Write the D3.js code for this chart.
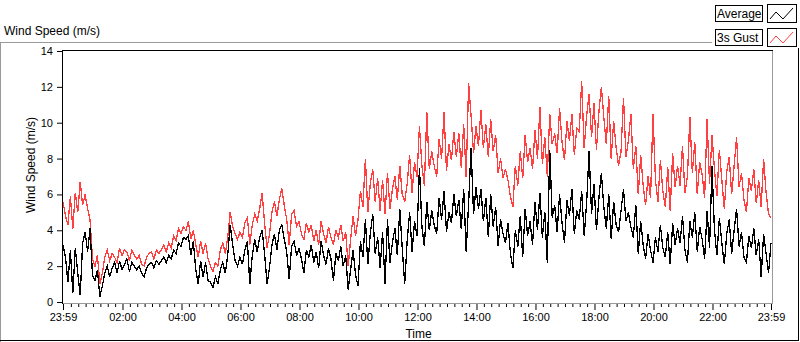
<html>

<head>
  <title>Wind Speed</title>
  <script src="https://d3js.org/d3.v7.min.js"></script>
  <style>
    body {
      margin: 0;
      background: #fff;
    }

    text {
      font-family: "Liberation Sans", Arial, sans-serif;
      fill: #000;
    }

    .axis .domain {
      stroke: none;
    }

    .axis line {
      stroke: #000;
    }

    .frame-dark {
      stroke: #000;
      stroke-width: 1px;
    }

    .frame-light {
      stroke: #9a9a9a;
      stroke-width: 1px;
    }

    .series {
      fill: none;
      stroke-width: 1.3px;
      shape-rendering: crispEdges;
    }
  </style>
</head>

<body>
  <svg id="chart" width="800" height="342"></svg>

  <script>

    // one reading every 5 minutes, starting at 23:59 of the previous day
    const stepMinutes = 5;

    const average = [
      3.2, 2.5, 1.1, 2.9, 0.5, 3.0, 1.6, 0.4, 3.3, 3.9,
      2.8, 4.1, 1.5, 1.2, 1.8, 0.3, 0.9, 1.6, 2.0, 1.4,
      1.9, 2.2, 1.6, 2.3, 1.8, 2.1, 2.4, 1.7, 2.2, 2.0,
      1.8, 2.0, 1.6, 1.4, 1.9, 2.1, 2.2, 1.9, 2.3, 2.1,
      2.3, 2.5, 2.2, 2.6, 2.4, 2.9, 2.7, 3.3, 3.1, 3.6,
      3.5, 3.7, 2.6, 3.4, 1.8, 1.0, 2.3, 1.4, 2.2, 1.2,
      1.1, 0.8, 1.4, 1.0, 1.8, 2.2, 1.6, 2.6, 4.3, 3.2,
      2.3, 2.0, 2.5, 2.1, 2.9, 3.4, 1.0, 2.6, 3.5, 2.8,
      3.6, 4.0, 2.7, 1.0, 1.9, 3.2, 3.8, 2.9, 4.0, 4.3,
      3.5, 2.8, 1.3, 3.1, 3.4, 2.6, 3.0, 2.4, 1.6, 2.9,
      2.5, 3.2, 2.2, 2.8, 1.9, 3.4, 2.6, 2.1, 3.0, 2.4,
      1.2, 2.7, 2.3, 3.1, 2.0, 2.6, 0.7, 1.8, 2.9, 1.5,
      0.9, 3.4, 2.5, 4.6, 2.1, 3.8, 4.9, 2.7, 3.6, 1.9,
      3.9, 1.0, 4.6, 2.2, 3.3, 4.1, 2.6, 5.2, 3.0, 1.0,
      3.4, 5.0, 2.8, 4.5, 3.7, 7.5, 4.2, 3.1, 5.6, 4.0,
      5.1, 4.3, 3.8, 5.8, 4.6, 6.2, 3.9, 5.0, 4.4, 6.0,
      4.8, 5.7, 4.1, 6.3, 2.8, 5.5, 8.6, 4.9, 6.4, 5.2,
      6.3, 4.5, 5.8, 3.6, 6.0, 4.2, 5.3, 3.1, 4.6, 3.8,
      3.3, 4.4, 2.7, 1.9, 4.0, 3.1, 4.8, 2.5, 5.2, 3.7,
      4.5, 3.2, 5.6, 4.0, 6.1, 3.6, 5.0, 2.2, 8.5, 4.7,
      5.4, 3.9, 6.0, 4.4, 3.3, 5.7, 4.8, 6.3, 3.8, 5.1,
      4.6, 6.2, 3.7, 5.5, 8.4, 4.9, 6.6, 4.0, 5.8, 7.2,
      5.3, 4.1, 6.0, 3.5, 5.6, 4.3, 3.9, 5.1, 6.3, 4.5,
      5.0, 4.2, 3.6, 5.4, 2.7, 4.5, 3.2, 2.4, 3.8, 2.9,
      2.2, 3.6, 2.8, 4.3, 3.0, 2.5, 3.9, 2.1, 4.4, 3.2,
      4.1, 3.3, 4.8, 2.9, 2.2, 4.5, 3.6, 5.0, 2.8, 4.2,
      3.5, 2.4, 5.1, 3.0, 7.6, 4.0, 2.6, 4.7, 3.3, 2.1,
      3.8, 4.6, 2.7, 4.0, 5.2, 3.1, 3.9, 2.5, 2.2, 3.7,
      3.0, 4.1, 2.6, 3.5, 1.4, 3.8, 2.7, 1.6, 3.3
    ];

    const gust = [
      5.6, 4.8, 4.3, 5.9, 4.1, 6.1, 5.0, 6.7, 5.4, 6.0,
      5.2, 4.6, 2.4, 2.0, 2.6, 1.0, 1.6, 2.5, 2.9, 2.3,
      2.7, 2.5, 2.2, 3.0, 2.6, 2.9, 2.8, 2.3, 2.9, 2.6,
      2.4, 2.6, 2.1, 2.0, 2.5, 2.7, 2.8, 2.4, 2.9, 2.7,
      2.9, 3.2, 2.8, 3.3, 3.0, 3.7, 3.4, 4.1, 3.8, 4.2,
      4.0, 4.5, 3.5, 4.0, 3.2, 2.5, 3.4, 2.7, 3.3, 2.4,
      2.0, 1.7, 2.2, 2.0, 2.9, 3.3, 2.7, 3.6, 5.0, 4.2,
      3.8, 3.5, 3.9, 3.6, 4.4, 4.7, 3.2, 4.3, 4.9, 4.5,
      5.2, 6.1, 4.4, 3.0, 3.8, 5.0, 5.6, 4.8, 5.7, 6.35,
      5.4, 4.6, 3.2, 4.9, 5.1, 4.2, 4.5, 3.8, 3.5, 4.4,
      3.9, 4.3, 3.4, 4.0, 3.2, 4.5, 3.8, 3.3, 4.2, 3.6,
      3.2, 4.0, 3.6, 4.3, 3.4, 3.9, 2.0, 3.5, 4.8, 3.7,
      4.6, 6.2, 5.3, 8.0, 5.0, 6.6, 7.4, 5.6, 6.9, 5.1,
      6.8, 4.9, 7.2, 5.2, 6.3, 7.0, 5.7, 7.6, 6.0, 5.6,
      6.6, 8.2, 6.1, 7.8, 7.0, 9.8, 7.6, 6.5, 10.6, 7.4,
      8.4, 7.6, 7.0, 9.1, 8.0, 10.6, 7.3, 8.8, 7.9, 9.5,
      8.1, 9.4, 7.5, 9.9, 7.0, 12.2, 10.4, 8.3, 9.8, 8.7,
      10.7, 8.6, 9.9, 8.1, 10.2, 8.4, 9.3, 7.2, 8.0, 6.9,
      7.4, 6.8, 5.9, 5.3, 7.6, 6.5, 8.4, 6.9, 9.3, 7.8,
      8.6, 7.4, 9.6, 8.0, 10.9, 7.7, 9.2, 7.0, 10.5, 8.8,
      9.4, 8.3, 10.8, 8.9, 7.9, 10.1, 9.0, 10.5, 8.2, 9.7,
      9.5, 12.3, 8.6, 10.4, 11.6, 9.2, 11.1, 8.5, 10.6, 12.0,
      10.3, 8.8, 11.5, 8.0, 10.1, 8.6, 7.6, 8.4, 11.4, 8.1,
      9.0, 10.5, 7.4, 8.7, 6.0, 8.2, 6.5, 5.4, 7.0, 5.8,
      10.5, 6.8, 5.6, 7.9, 6.2, 5.3, 7.5, 5.1, 8.3, 6.4,
      7.6, 6.5, 8.7, 6.1, 7.0, 10.3, 7.2, 8.9, 6.0, 7.8,
      7.1, 5.8, 10.2, 6.6, 9.3, 7.4, 5.9, 8.5, 6.8, 5.2,
      7.3, 8.1, 6.0, 7.6, 9.2, 6.4, 7.2, 5.7, 5.0, 6.9,
      6.2, 7.4, 5.5, 6.8, 5.3, 8.0, 6.1, 4.9, 4.7
    ];

    const yTicks = [0, 2, 4, 6, 8, 10, 12, 14];

    // major time ticks, in minutes after 23:59
    const xTickMinutes = [0, 121, 241, 361, 481, 601, 721, 841, 961, 1081, 1201, 1321, 1440];
    const xTickLabels = ["23:59", "02:00", "04:00", "06:00", "08:00", "10:00", "12:00",
      "14:00", "16:00", "18:00", "20:00", "22:00", "23:59"];

    const seriesNames = ["Average", "3s Gust"];
    const seriesColors = ["#000000", "#ff4040"];


    const svg = d3.select("svg#chart");
    const width = svg.attr("width");
    const height = svg.attr("height");
    const plot = { left: 63, right: 772, top: 51, bottom: 303 };

    const xScale = d3.scaleLinear().domain([0, 1440]).range([plot.left, plot.right - 1]);
    const yScale = d3.scaleLinear().domain([0, 14]).range([plot.bottom - 1, plot.top]);

    // outer panel frame
    svg.append("line").attr("class", "frame-light")
      .attr("x1", 0).attr("x2", 712).attr("y1", 42.5).attr("y2", 42.5);
    svg.append("line").attr("class", "frame-light")
      .attr("x1", 0.5).attr("x2", 0.5).attr("y1", 42).attr("y2", height);
    svg.append("line").attr("class", "frame-dark")
      .attr("x1", 0).attr("x2", 799).attr("y1", 340.5).attr("y2", 340.5);
    svg.append("line").attr("class", "frame-dark")
      .attr("x1", 798.5).attr("x2", 798.5).attr("y1", 48).attr("y2", 341);

    svg.append("text")
      .attr("x", 4).attr("y", 35)
      .style("font-size", "12px")
      .text("Wind Speed (m/s)");

    // plot area border: dark top/left, light bottom/right
    svg.append("line").attr("class", "frame-light")
      .attr("x1", plot.left).attr("x2", plot.right + 1).attr("y1", plot.bottom + 0.5).attr("y2", plot.bottom + 0.5);
    svg.append("line").attr("class", "frame-light")
      .attr("x1", plot.right + 0.5).attr("x2", plot.right + 0.5).attr("y1", plot.top).attr("y2", plot.bottom + 1);
    svg.append("line").attr("class", "frame-dark")
      .attr("x1", plot.left - 1).attr("x2", plot.right + 1).attr("y1", plot.top - 0.5).attr("y2", plot.top - 0.5);
    svg.append("line").attr("class", "frame-dark")
      .attr("x1", plot.left - 0.5).attr("x2", plot.left - 0.5).attr("y1", plot.top - 1).attr("y2", plot.bottom + 1);

    // axes
    const leftAxis = d3.axisLeft(yScale).tickValues(yTicks).tickSize(5).tickPadding(4);
    svg.append("g")
      .attr("class", "y axis")
      .attr("transform", `translate(${plot.left - 1},0)`)
      .call(leftAxis)
      .selectAll("text").style("font-size", "11px");

    const minorMinutes = d3.range(16, 1440, 15).filter(m => !xTickMinutes.some(t => Math.abs(t - m) < 5));
    const minorAxis = d3.axisBottom(xScale).tickValues(minorMinutes).tickSize(3).tickFormat("");
    svg.append("g")
      .attr("class", "x axis minor")
      .attr("transform", `translate(0,${plot.bottom + 1})`)
      .call(minorAxis);

    const bottomAxis = d3.axisBottom(xScale).tickValues(xTickMinutes).tickSize(6).tickPadding(3)
      .tickFormat((d, i) => xTickLabels[i]);
    svg.append("g")
      .attr("class", "x axis")
      .attr("transform", `translate(0,${plot.bottom + 1})`)
      .call(bottomAxis)
      .selectAll("text").style("font-size", "11px");

    svg.append("text")
      .attr("x", (plot.left + plot.right) / 2 + 1).attr("y", 338)
      .attr("text-anchor", "middle")
      .style("font-size", "12px")
      .text("Time");

    svg.append("text")
      .attr("transform", "translate(35,165) rotate(-90)")
      .attr("text-anchor", "middle")
      .style("font-size", "12px")
      .text("Wind Speed (m/s)");

    // series
    svg.append("clipPath").attr("id", "plotclip")
      .append("rect")
      .attr("x", plot.left).attr("y", plot.top)
      .attr("width", plot.right - plot.left).attr("height", plot.bottom - plot.top);

    let chartArea = svg.append("g").attr("clip-path", "url(#plotclip)");

    const line = d3.line()
      .x((d, i) => xScale(i * stepMinutes))
      .y(d => yScale(d));

    chartArea.append("path").datum(gust)
      .attr("class", "series")
      .attr("stroke", seriesColors[1])
      .attr("d", line);

    chartArea.append("path").datum(average)
      .attr("class", "series")
      .attr("stroke", seriesColors[0])
      .attr("d", line);

    // legend
    const legend = svg.append("g").attr("transform", "translate(715,4)");
    seriesNames.forEach((name, i) => {
      let row = legend.append("g").attr("transform", `translate(0,${i * 24})`);
      row.append("rect")
        .attr("x", 0.5).attr("y", 1.5).attr("width", 47).attr("height", 16)
        .attr("fill", "#fff").attr("stroke", "#000");
      row.append("text")
        .attr("x", 2).attr("y", 14)
        .style("font-size", "12px")
        .text(name);
      row.append("rect")
        .attr("x", 52.5).attr("y", 0.5).attr("width", 29).attr("height", 18)
        .attr("fill", "#fff").attr("stroke", "#000");
      row.append("path")
        .attr("d", "M55,15L61,8L68,15L78,4")
        .attr("fill", "none").attr("stroke", seriesColors[i]);
    });

  </script>
</body>

</html>
